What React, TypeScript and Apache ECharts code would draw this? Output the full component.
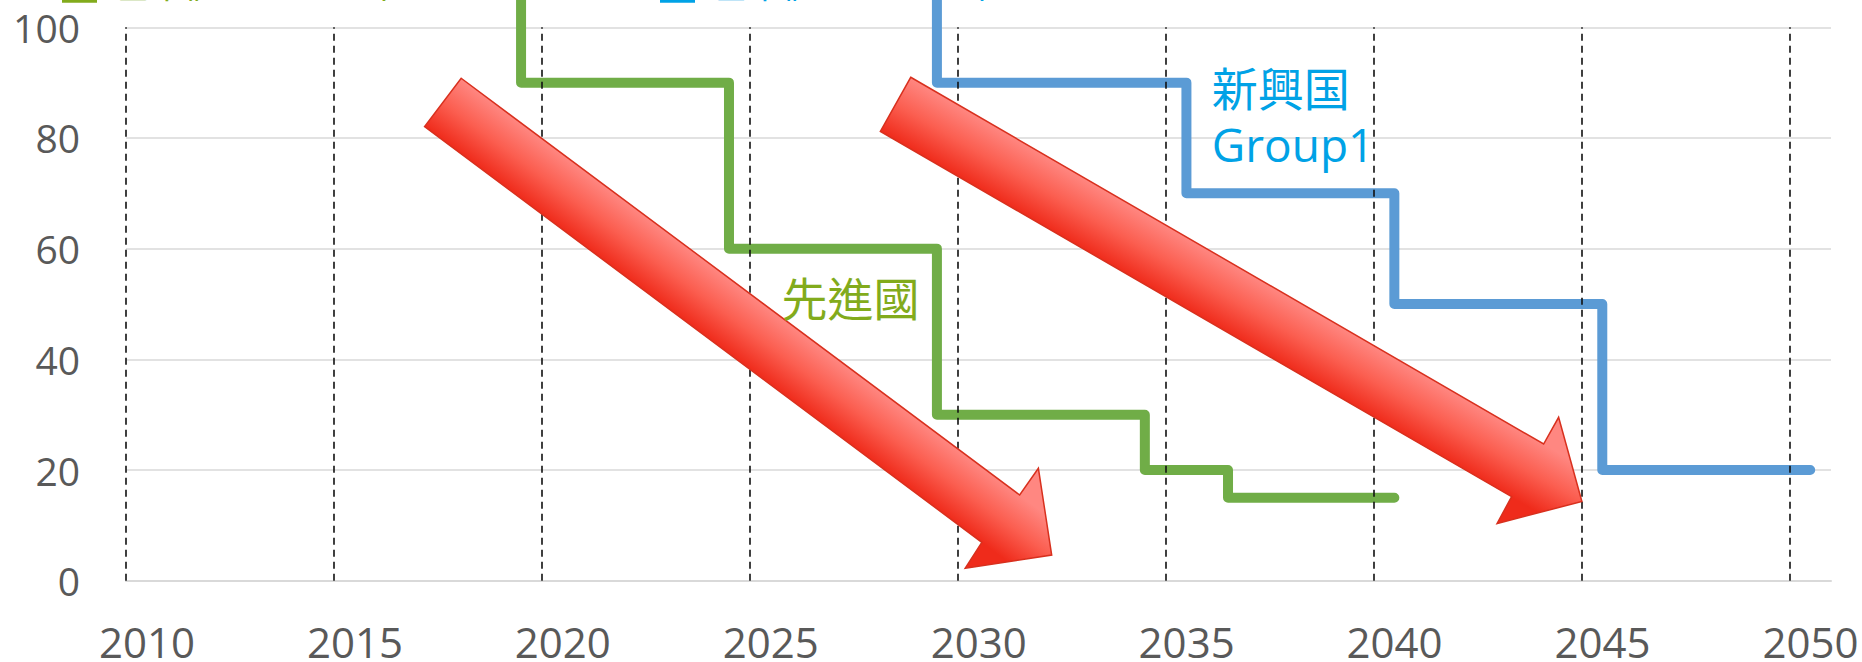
import React, { useEffect, useRef } from "react";
import * as echarts from "echarts";

// ---- data ----
const xTickYears = [2010, 2015, 2020, 2025, 2030, 2035, 2040, 2045, 2050];
const xMin = 2010;
const xMax = 2051;
const yMin = 0;
const yMax = 100;
const yInterval = 20;

// 先進國 step-down schedule (year of change, level after change)
const devStepYears = [2019.5, 2024.5, 2029.5, 2034.5, 2036.5, 2040.5];
const devLevels = [90, 60, 30, 20, 15];
// 新興国 Group1 step-down schedule
const g1StepYears = [2029.5, 2035.5, 2040.5, 2045.5, 2050.5];
const g1Levels = [90, 70, 50, 20];
// lines enter from above the visible range
const enterLevel = 110;

// annotation texts
const devLabel = "先進國";
const g1LabelLines = ["新興国", "Group1"];
const devLegend = "基準値2011～13年";
const g1Legend = "基準値2020～22年";

// annotation anchor positions (data coordinates)
const devLabelPos = [2027.42, 51.45];
const g1LabelPos = [2036.11, 84.0];

// big trend arrows (data coordinates): tail-top, shaft-end-top, barb-top, tip, barb-bottom, shaft-end-bottom, tail-bottom
const arrow1 = [
  [2018.06, 90.79],
  [2031.49, 15.49],
  [2031.94, 20.31],
  [2032.26, 4.64],
  [2030.18, 2.24],
  [2030.58, 6.94],
  [2017.18, 82.05],
];
const arrow2 = [
  [2028.87, 90.97],
  [2044.09, 24.7],
  [2044.45, 29.53],
  [2045.01, 14.31],
  [2042.97, 10.34],
  [2043.32, 15.18],
  [2028.14, 81.18],
];

function stepPoints(years: number[], levels: number[]) {
  const pts: number[][] = [[years[0], enterLevel]];
  levels.forEach((lv, i) => {
    pts.push([years[i], lv]);
    pts.push([years[i + 1], lv]);
  });
  return pts;
}

const GREEN_LINE = "#70AD47";
const BLUE_LINE = "#5B9BD5";
const GREEN_TEXT = "#82AB1C";
const BLUE_TEXT = "#00A2E6";
const AXIS_TEXT = "#595959";

export default function App() {
  const ref = useRef<HTMLDivElement>(null);

  useEffect(() => {
    if (!ref.current) return;
    const chart = echarts.init(ref.current, undefined, { renderer: "svg" });
    const option: any = {
      animation: false,
      grid: {
        left: 126,
        right: 31,
        top: 27.3,
        bottom: 81.3,
        containLabel: false,
        outerBoundsMode: "none",
      },
      xAxis: {
        type: "value",
        min: xMin,
        max: xMax,
        interval: 5,
        axisLine: { show: true, onZero: false, lineStyle: { color: "#d9d9d9", width: 2 } },
        axisTick: { show: false },
        splitLine: { show: false },
        axisLabel: {
          fontSize: 42,
          lineHeight: 34,
          color: AXIS_TEXT,
          fontFamily: "Open Sans",
          margin: 44,
          padding: [0, 0, 0, 42],
          showMaxLabel: false,
          showMinLabel: true,
          hideOverlap: false,
          formatter: (v: number) => String(v),
        },
      },
      yAxis: {
        type: "value",
        min: yMin,
        max: yMax,
        interval: yInterval,
        axisLine: { show: false },
        axisTick: { show: false },
        splitLine: { show: true, lineStyle: { color: "#d9d9d9", width: 1.5 } },
        axisLabel: {
          fontSize: 39,
          color: AXIS_TEXT,
          fontFamily: "Open Sans",
          margin: 46,
        },
      },
      series: [
        {
          type: "line",
          data: [],
          z: 2,
          silent: true,
          markLine: {
            silent: true,
            symbol: ["none", "none"],
            label: { show: false },
            lineStyle: { color: "#111", width: 1.6, type: [7, 5] },
            data: xTickYears.map((y) => ({ xAxis: y })),
          },
        },
        {
          name: devLabel,
          type: "line",
          data: stepPoints(devStepYears, devLevels),
          showSymbol: false,
          clip: false,
          z: 3,
          lineStyle: { color: GREEN_LINE, width: 10, cap: "round", join: "round" },
        },
        {
          name: g1LabelLines.join(" "),
          type: "line",
          data: stepPoints(g1StepYears, g1Levels),
          showSymbol: false,
          clip: false,
          z: 3,
          lineStyle: { color: BLUE_LINE, width: 10, cap: "round", join: "round" },
        },
      ],
    };
    chart.setOption(option);

    const toPx = (p: number[]) => chart.convertToPixel({ gridIndex: 0 }, p) as number[];

    const makeArrow = (pts: number[][]) => {
      const px = pts.map(toPx);
      const A = px[0];
      const B = px[1];
      const G = px[6];
      const dx = B[0] - A[0];
      const dy = B[1] - A[1];
      const len = Math.hypot(dx, dy);
      const d = [dx / len, dy / len];
      const n = [d[1], -d[0]];
      const w = (A[0] - G[0]) * n[0] + (A[1] - G[1]) * n[1];
      const grad = new echarts.graphic.LinearGradient(
        G[0],
        G[1],
        G[0] + n[0] * w,
        G[1] + n[1] * w,
        [
          { offset: 0, color: "#EF2B1B" },
          { offset: 0.5, color: "#FB5E50" },
          { offset: 1, color: "#FF8781" },
        ],
        true
      );
      return {
        type: "polygon",
        z: 50,
        shape: { points: px },
        style: { fill: grad, stroke: "#D8301E", lineWidth: 1.5 },
      };
    };

    const dl = toPx(devLabelPos);
    const g1 = toPx(g1LabelPos);

    chart.setOption({
      graphic: [
        makeArrow(arrow1),
        makeArrow(arrow2),
        {
          type: "text",
          z: 60,
          x: dl[0],
          y: dl[1],
          style: {
            text: devLabel,
            fill: GREEN_TEXT,
            fontSize: 46,
            lineHeight: 48,
            fontFamily: '"Noto Sans CJK TC", "Noto Sans CJK JP"',
            align: "center",
            verticalAlign: "middle",
          },
        },
        {
          type: "text",
          z: 60,
          x: g1[0],
          y: g1[1],
          style: {
            text: g1LabelLines.join("\n"),
            fill: BLUE_TEXT,
            fontSize: 46,
            lineHeight: 56,
            fontFamily: '"Open Sans", "Noto Sans CJK JP"',
            align: "left",
            verticalAlign: "middle",
          },
        },
        // legend (cut off at top of picture)
        {
          type: "rect",
          z: 60,
          shape: { x: 62, y: -8, width: 35, height: 10.7 },
          style: { fill: GREEN_TEXT },
        },
        {
          type: "text",
          z: 60,
          x: 116,
          y: 0,
          style: {
            text: devLegend,
            fill: GREEN_TEXT,
            fontSize: 34,
            fontFamily: '"Noto Sans CJK JP"',
            align: "left",
            verticalAlign: "bottom",
          },
        },
        {
          type: "rect",
          z: 60,
          shape: { x: 660, y: -8, width: 35, height: 10.7 },
          style: { fill: BLUE_TEXT },
        },
        {
          type: "text",
          z: 60,
          x: 714,
          y: 0,
          style: {
            text: g1Legend,
            fill: BLUE_TEXT,
            fontSize: 34,
            fontFamily: '"Noto Sans CJK JP"',
            align: "left",
            verticalAlign: "bottom",
          },
        },
      ],
    });

    return () => chart.dispose();
  }, []);

  return (
    <div
      ref={ref}
      style={{ position: "fixed", left: 0, top: 0, width: 1862, height: 662, background: "#fff" }}
    />
  );
}
